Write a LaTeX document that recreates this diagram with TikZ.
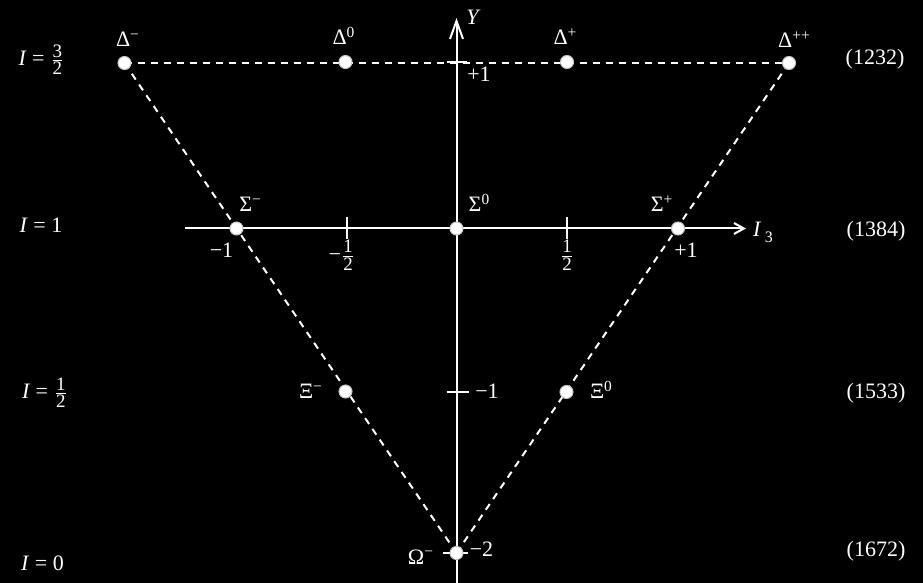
\documentclass[tikz,border=0pt]{standalone}
\usepackage{amsmath}
\usepackage{fontspec}
\setmainfont{Liberation Serif}
\usetikzlibrary{arrows.meta}
\newcommand{\myfr}[2]{\ensuremath{\genfrac{}{}{0.45pt}{1}{\text{\fontsize{9.5}{10}\selectfont #1}}{\text{\fontsize{9.5}{10}\selectfont #2}}}}
\newcommand{\sps}[1]{\textsuperscript{#1}}
\begin{document}
\begin{tikzpicture}[x=0.5pt,y=-0.5pt,
  pt/.style={circle,fill=white,draw=gray!45,line width=0.5pt,minimum size=6.5pt,inner sep=0pt},
  lbl/.style={text=white,inner sep=0pt,anchor=base,font=\fontsize{11}{13}\selectfont},
  axisline/.style={draw=white,line width=1pt},
  dline/.style={draw=white,line width=1pt,dash pattern=on 3.5pt off 3pt},
  tickline/.style={draw=white,line width=1pt}]
\fill[black] (0,0) rectangle (923,583);
\useasboundingbox (0,0) rectangle (923,583);
% axes
\coordinate (ybot) at (456.5,583);
\coordinate (ytop) at (456.5,18);
\coordinate (xl) at (185,228.5);
\coordinate (xr) at (746,228.5);
\draw[axisline,-{Straight Barb[length=9pt,width=6.5pt,line width=1pt]}] (ybot) -- (ytop);
\draw[axisline,-{Straight Barb[length=5pt,width=5.5pt,line width=1pt]}] (xl) -- (xr);
% ticks
\coordinate (ty1a) at (446.5,62); \coordinate (ty1b) at (466.5,62);
\coordinate (tym1a) at (446.5,392); \coordinate (tym1b) at (468.5,392);
\coordinate (tym2a) at (443,553); \coordinate (tym2b) at (468,553);
\coordinate (txh1a) at (346.5,217); \coordinate (txh1b) at (346.5,239);
\coordinate (txh2a) at (567,217); \coordinate (txh2b) at (567,239);
\draw[tickline] (ty1a) -- (ty1b);
\draw[tickline] (tym1a) -- (tym1b);
\draw[tickline] (tym2a) -- (tym2b);
\draw[tickline] (txh1a) -- (txh1b);
\draw[tickline] (txh2a) -- (txh2b);
% particle positions
\coordinate (cDm) at (124.5,63);
\coordinate (cD0) at (345.5,62);
\coordinate (cDp) at (567,62);
\coordinate (cDpp) at (789,63);
\coordinate (cSm) at (236.5,228.5);
\coordinate (cS0) at (456.5,228.5);
\coordinate (cSp) at (678,228.5);
\coordinate (cXm) at (345.5,391.5);
\coordinate (cX0) at (566.5,392);
\coordinate (cOm) at (456.5,553);
% dashed triangle
\draw[dline] (cDm) -- (cDpp);
\draw[dline] (cDm) -- (cOm);
\draw[dline] (cDpp) -- (cOm);
% particles
\node[pt] (Dm) at (cDm) {};
\node[pt] (D0) at (cD0) {};
\node[pt] (Dp) at (cDp) {};
\node[pt] (Dpp) at (cDpp) {};
\node[pt] (Sm) at (cSm) {};
\node[pt] (S0) at (cS0) {};
\node[pt] (Sp) at (cSp) {};
\node[pt] (Xm) at (cXm) {};
\node[pt] (X0) at (cX0) {};
\node[pt] (Om) at (cOm) {};
% particle labels
\node[lbl] (lDm) at (128,47) {Δ\sps{−}};
\node[lbl] (lD0) at (344,45) {Δ\sps{0}};
\node[lbl] (lDp) at (565.5,45) {Δ\sps{+}};
\node[lbl] (lDpp) at (794.5,48) {Δ\sps{++}};
\node[lbl] (lSm) at (250.5,212) {Σ\sps{−}};
\node[lbl] (lS0) at (479.5,212) {Σ\sps{0}};
\node[lbl] (lSp) at (662,212) {Σ\sps{+}};
\node[lbl] (lXm) at (311,399) {Ξ\sps{−}};
\node[lbl] (lX0) at (601.5,399) {Ξ\sps{0}};
\node[lbl] (lOm) at (421,564) {Ω\sps{−}};
% axis labels
\node[lbl] (lY) at (473.5,25) {\textit{Y}};
\node[lbl] (lI3) at (763,236.5) {\textit{I}\,\raisebox{-0.55ex}{\fontsize{8}{9}\selectfont 3}};
\node[lbl] (ly1) at (479,82) {+1};
\node[lbl] (lym1) at (487,399) {−1};
\node[lbl] (lym2) at (481.5,557) {−2};
\node[lbl] (lxm1) at (221.5,257.5) {−1};
\node[lbl] (lxp1) at (686,257.5) {+1};
\node[lbl,anchor=north] (lxmh) at (342,240) {−\myfr{1}{2}};
\node[lbl,anchor=north] (lxph) at (567,240) {\myfr{1}{2}};
% left labels
\node[lbl] (lI32) at (41.5,66) {\textit{I} = \myfr{3}{2}};
\node[lbl] (lI1) at (41,233) {\textit{I} = 1};
\node[lbl] (lI12) at (45,399) {\textit{I} = \myfr{1}{2}};
\node[lbl] (lI0) at (42.5,570) {\textit{I} = 0};
% right labels
\node[lbl] (m1) at (875,65) {(1232)};
\node[lbl] (m2) at (876,237) {(1384)};
\node[lbl] (m3) at (876,399) {(1533)};
\node[lbl] (m4) at (876,557) {(1672)};
\end{tikzpicture}
\end{document}
